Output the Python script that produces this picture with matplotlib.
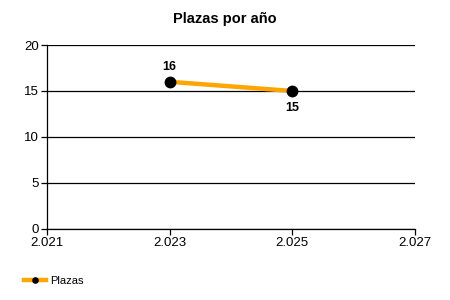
import matplotlib
matplotlib.use('Agg')
import matplotlib.pyplot as plt
from matplotlib.ticker import FuncFormatter

years = [2023, 2025]
plazas = [16, 15]
xticks = [2021, 2023, 2025, 2027]
yticks = [0, 5, 10, 15, 20]
label_offsets = [11, -12.5]

plt.rcParams['font.family'] = ['Liberation Sans', 'DejaVu Sans']

fig = plt.figure(figsize=(4.5, 3), dpi=100)
ax = fig.add_axes([0.1044, 0.2367, 0.8178, 0.6133])

ax.plot(years, plazas, color='#FFA500', lw=3.2, marker='o', ms=7.5,
        mfc='black', mec='black', label='Plazas', zorder=3, clip_on=False)
for x, y, off in zip(years, plazas, label_offsets):
    ax.annotate(str(y), (x, y), xytext=(0, off), textcoords='offset points',
                ha='center', va='center', fontsize=9, fontweight='bold')

ax.set_xlim(2021, 2027)
ax.set_ylim(0, 20)
ax.set_xticks(xticks)
ax.set_yticks(yticks)
ax.xaxis.set_major_formatter(FuncFormatter(lambda v, p: f'{int(v):,}'.replace(',', '.')))
ax.grid(axis='y', color='black', lw=0.9)
ax.set_axisbelow(True)
for s in ('top', 'right'):
    ax.spines[s].set_visible(False)
for s in ('left', 'bottom'):
    ax.spines[s].set_linewidth(0.9)
ax.tick_params(labelsize=9.5, length=4, width=0.9, pad=2)

fig.text(0.5, 0.935, 'Plazas por año', ha='center', va='center', fontsize=10.5, fontweight='bold')
fig.legend(loc='lower left', bbox_to_anchor=(0.03, 0.015), frameon=False, fontsize=8,
           handlelength=2, markerscale=0.5, handletextpad=0.4)

fig.savefig('out.png', dpi=100)
